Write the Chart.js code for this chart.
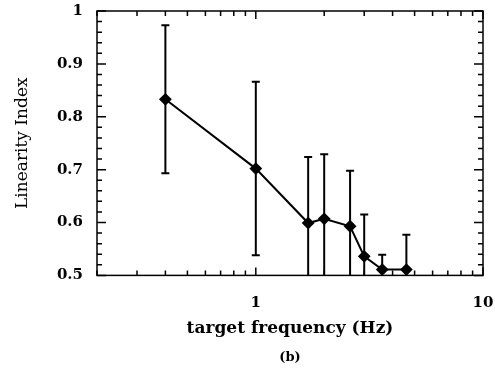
<!DOCTYPE html>
<html>
<head>
<meta charset="utf-8">
<script src="https://cdn.jsdelivr.net/npm/chart.js@4/dist/chart.umd.min.js"></script>
<style>
    html, body { margin: 0; padding: 0; background: #fff; }
    #wrap { position: relative; width: 495px; height: 369px; }
</style>
</head>
<body>
<div id="wrap"><canvas id="linChart"></canvas></div>
<script>
// target frequency (Hz), linearity index and error (half length)
const freqs = [0.4, 1.0, 1.7, 2.0, 2.6, 3.0, 3.6, 4.6];
const linIndex = [0.833, 0.702, 0.599, 0.607, 0.593, 0.536, 0.511, 0.511];
const errHalf = [0.140, 0.164, 0.125, 0.122, 0.105, 0.079, 0.028, 0.066];

// tick marks
const xTickLabels = [1, 10];
const xMinorTicks = [0.2, 0.3, 0.4, 0.5, 0.6, 0.7, 0.8, 0.9, 2, 3, 4, 5, 6, 7, 8, 9];
const yTickLabels = [0.5, 0.6, 0.7, 0.8, 0.9, 1];
const yMinorTicks = [0.52, 0.54, 0.56, 0.58, 0.62, 0.64, 0.66, 0.68, 0.72, 0.74, 0.76, 0.78,
                     0.82, 0.84, 0.86, 0.88, 0.92, 0.94, 0.96, 0.98];

const SERIF = '"DejaVu Serif", "Liberation Serif", serif';

/**
 * Draws the vertical error bars with small caps, clipped to the plot box
 */
const errorBarPlugin = {
    id: 'errorBars',
    beforeDatasetsDraw(chart) {
        const ctx = chart.ctx;
        const xs = chart.scales.x;
        const ys = chart.scales.y;
        const area = chart.chartArea;
        ctx.save();
        ctx.beginPath();
        ctx.rect(area.left, area.top, area.right - area.left, area.bottom - area.top);
        ctx.clip();
        ctx.strokeStyle = '#000';
        ctx.lineWidth = 2;
        freqs.forEach((f, i) => {
            const x = xs.getPixelForValue(f);
            const yTop = ys.getPixelForValue(linIndex[i] + errHalf[i]);
            const yBot = ys.getPixelForValue(linIndex[i] - errHalf[i]);
            ctx.beginPath();
            ctx.moveTo(x, yTop);
            ctx.lineTo(x, yBot);
            ctx.moveTo(x - 4, yTop);
            ctx.lineTo(x + 4, yTop);
            ctx.moveTo(x - 4, yBot);
            ctx.lineTo(x + 4, yBot);
            ctx.stroke();
        });
        ctx.restore();
    }
};

/**
 * Draws the frame and inward ticks on all four sides
 */
const frameTicksPlugin = {
    id: 'frameTicks',
    afterDraw(chart) {
        const ctx = chart.ctx;
        const xs = chart.scales.x;
        const ys = chart.scales.y;
        const a = chart.chartArea;
        ctx.save();
        ctx.strokeStyle = '#000';
        ctx.lineWidth = 1.5;
        ctx.strokeRect(a.left, a.top, a.right - a.left, a.bottom - a.top);

        const xTick = (v, len) => {
            const x = xs.getPixelForValue(v);
            ctx.beginPath();
            ctx.moveTo(x, a.bottom);
            ctx.lineTo(x, a.bottom - len);
            ctx.moveTo(x, a.top);
            ctx.lineTo(x, a.top + len);
            ctx.stroke();
        };
        const yTick = (v, len) => {
            const y = ys.getPixelForValue(v);
            ctx.beginPath();
            ctx.moveTo(a.left, y);
            ctx.lineTo(a.left + len, y);
            ctx.moveTo(a.right, y);
            ctx.lineTo(a.right - len, y);
            ctx.stroke();
        };
        xTickLabels.forEach(v => xTick(v, 8));
        xMinorTicks.forEach(v => xTick(v, 5));
        yTickLabels.forEach(v => yTick(v, 9));
        yMinorTicks.forEach(v => yTick(v, 5));
        ctx.restore();
    }
};

function initLinChart() {
    const ctx = document.getElementById('linChart').getContext('2d');
    new Chart(ctx, {
        type: 'scatter',
        data: {
            datasets: [{
                label: 'Linearity Index',
                data: freqs.map((f, i) => ({ x: f, y: linIndex[i] })),
                showLine: true,
                borderColor: '#000',
                borderWidth: 2,
                backgroundColor: '#000',
                pointStyle: 'rectRot',
                pointRadius: 5,
                pointBackgroundColor: '#000',
                pointBorderColor: '#000',
                clip: false
            }]
        },
        options: {
            responsive: true,
            maintainAspectRatio: false,
            animation: false,
            layout: { padding: { left: 0, right: 12, top: 11, bottom: 0 } },
            plugins: {
                legend: { display: false },
                tooltip: { enabled: false },
                subtitle: {
                    display: true,
                    position: 'bottom',
                    fullSize: false,
                    text: '(b)',
                    color: '#000',
                    font: { family: SERIF, size: 13, weight: 'bold' },
                    padding: { top: 0, bottom: 4 }
                }
            },
            scales: {
                x: {
                    type: 'logarithmic',
                    min: 0.2,
                    max: 10,
                    grid: { display: false, drawTicks: false },
                    border: { display: false },
                    afterFit: function(scale) {
                        scale.height = 74;
                        scale.paddingLeft = 0;
                        scale.paddingRight = 0;
                    },
                    afterBuildTicks: function(scale) {
                        scale.ticks = xTickLabels.map(v => ({ value: v }));
                    },
                    ticks: {
                        autoSkip: false,
                        maxRotation: 0,
                        padding: 19,
                        color: '#000',
                        font: { family: SERIF, size: 15, weight: 'bold' },
                        callback: function(value) {
                            return String(value);
                        }
                    },
                    title: {
                        display: true,
                        text: 'target frequency (Hz)',
                        color: '#000',
                        font: { family: SERIF, size: 17, weight: 'bold' },
                        padding: { top: 0, bottom: 11 }
                    }
                },
                y: {
                    min: 0.5,
                    max: 1,
                    grid: { display: false, drawTicks: false },
                    border: { display: false },
                    afterFit: function(scale) {
                        scale.width = 97;
                        scale.paddingTop = 0;
                        scale.paddingBottom = 0;
                    },
                    afterBuildTicks: function(scale) {
                        scale.ticks = yTickLabels.map(v => ({ value: v }));
                    },
                    ticks: {
                        autoSkip: false,
                        padding: 14,
                        color: '#000',
                        font: { family: SERIF, size: 15, weight: 'bold' },
                        callback: function(value) {
                            return value === 1 ? '1' : value.toFixed(1);
                        }
                    },
                    title: {
                        display: true,
                        text: 'Linearity Index',
                        color: '#000',
                        font: { family: SERIF, size: 17 },
                        padding: { top: 12, bottom: 0 }
                    }
                }
            }
        },
        plugins: [errorBarPlugin, frameTicksPlugin]
    });
}

document.addEventListener('DOMContentLoaded', initLinChart);
</script>
</body>
</html>
